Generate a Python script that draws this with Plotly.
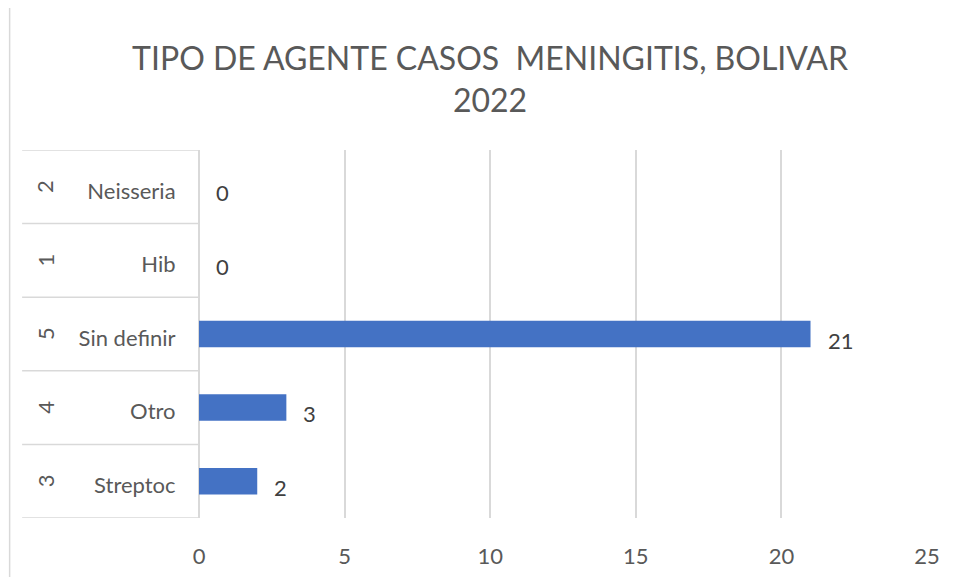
import plotly.graph_objects as go

# Data (bottom to top)
categories = ["Streptoc", "Otro", "Sin definir", "Hib", "Neisseria"]
codes = ["3", "4", "5", "1", "2"]
values = [2, 3, 21, 0, 0]
x_ticks = [0, 5, 10, 15, 20, 25]

# page offset (browser body margin)
OFF = 8
W, H = 959 - OFF, 577 - OFF
PL, PR, PT, PB = 199, 927.5, 149.5, 518   # plot area in page pixels
L, R, T, B = PL - OFF, 959 - PR, PT - OFF, 577 - PB
pw = PR - PL

FONT = "Lato"
GRAY = "#595959"
GRID = "#D9D9D9"

fig = go.Figure()
fig.add_trace(go.Bar(
    x=values, y=categories, orientation="h",
    marker=dict(color="#4472C4", line=dict(width=0)),
    width=0.36, hoverinfo="x+y",
))

annotations = []
for c, v in zip(categories, values):
    annotations.append(dict(
        x=v, y=c, xref="x", yref="y", text=str(v), showarrow=False,
        xanchor="left", yanchor="middle", xshift=15, yshift=-6,
        font=dict(family=FONT, size=22, color="#404040"),
    ))
for c, code in zip(categories, codes):
    annotations.append(dict(
        x=(45 - PL) / pw, y=c, xref="paper", yref="y", text=code,
        showarrow=False, textangle=-90, xanchor="center", yanchor="middle",
        font=dict(family=FONT, size=22, color=GRAY),
    ))

shapes = []
for i in range(len(categories) + 1):
    shapes.append(dict(
        type="line", xref="paper", yref="y",
        x0=(22 - PL) / pw, x1=0, y0=i - 0.5, y1=i - 0.5,
        line=dict(color=GRID, width=1.5),
    ))
# chart area left border
shapes.append(dict(
    type="line", xref="paper", yref="paper",
    x0=(9.5 - PL) / pw, x1=(9.5 - PL) / pw, y0=-2, y1=2,
    line=dict(color=GRID, width=1.5),
))

fig.update_layout(
    width=W, height=H,
    margin=dict(l=L, r=R, t=T, b=B, pad=0, autoexpand=False),
    paper_bgcolor="white", plot_bgcolor="white",
    showlegend=False,
    title=dict(
        text="TIPO DE AGENTE CASOS  MENINGITIS, BOLIVAR<br>2022",
        x=(490 - OFF) / W, xref="container", xanchor="center",
        y=1 - (70 - OFF) / H, yanchor="middle", yref="container",
        font=dict(family=FONT, size=32, color=GRAY),
        automargin=False,
    ),
    xaxis=dict(
        range=[0, 25], tickvals=x_ticks, ticktext=[str(t) for t in x_ticks],
        showgrid=True, gridcolor=GRID, gridwidth=1.5,
        zeroline=True, zerolinecolor=GRID, zerolinewidth=1.5,
        showline=False, ticks="outside", ticklen=19, tickcolor="rgba(0,0,0,0)",
        tickfont=dict(family=FONT, size=22, color=GRAY),
        fixedrange=True, automargin=False,
    ),
    yaxis=dict(
        type="category", categoryorder="array", categoryarray=categories,
        range=[-0.5, len(categories) - 0.5],
        showgrid=False, zeroline=False, showline=False,
        ticks="outside", ticklen=18, tickcolor="rgba(0,0,0,0)",
        ticklabelshift=4,
        tickfont=dict(family=FONT, size=22, color=GRAY),
        fixedrange=True, automargin=False,
    ),
    annotations=annotations,
    shapes=shapes,
)

fig.write_html("out.html")
